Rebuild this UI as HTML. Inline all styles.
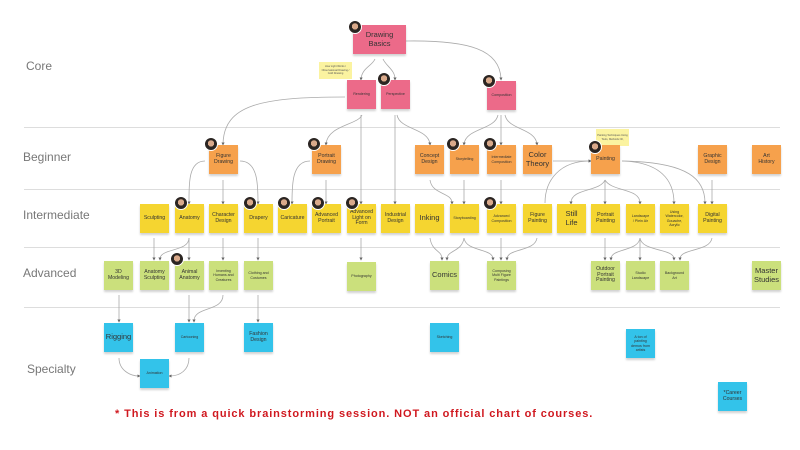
<!DOCTYPE html>
<html><head><meta charset="utf-8"><style>
body{margin:0;width:800px;height:450px;background:#fff;position:relative;overflow:hidden;font-family:"Liberation Sans",sans-serif}
.s{position:absolute;width:29px;height:29px;box-sizing:border-box;padding:0 3px;display:flex;align-items:center;justify-content:center;text-align:center;color:#333;box-shadow:0 2px 2px rgba(0,0,0,.18);line-height:1.15;overflow:hidden}
.p{background:#ec6a89}.o{background:#f6a14c}.y{background:#f5d530}.g{background:#cbe07c}.b{background:#33c3ea}
.L{font-size:7.5px}.M{font-size:5.2px}.S{font-size:3.6px}
.lab{position:absolute;font-size:12px;color:#777}
.hr{position:absolute;left:24px;width:756px;height:1px;background:#ddd}
.av{position:absolute;width:12px;height:12px;border-radius:50%;background:radial-gradient(circle at 50% 45%,#d9a98a 0 35%,#2b2522 36%);border:1px solid #fff}
svg{position:absolute;left:0;top:0}
</style></head><body>
<div class="hr" style="top:127px"></div><div class="hr" style="top:189px"></div><div class="hr" style="top:247px"></div><div class="hr" style="top:307px"></div>
<div class="lab" style="left:26px;top:59px">Core</div>
<div class="lab" style="left:23px;top:150px">Beginner</div>
<div class="lab" style="left:23px;top:208px">Intermediate</div>
<div class="lab" style="left:23px;top:266px">Advanced</div>
<div class="lab" style="left:27px;top:362px">Specialty</div>
<svg width="800" height="450" fill="none" stroke="#aaa" stroke-width="0.8">
<defs><marker id="a" markerWidth="4" markerHeight="4" refX="2" refY="2" orient="auto"><path d="M0,0L4,2L0,4z" fill="#666" stroke="none"/></marker></defs>
<g marker-end="url(#a)">
<path d="M375,59C372,66 362,68 361,79"/><path d="M383,59C386,66 395,70 395,79"/><path d="M406,41C470,40 500,50 501,79"/>
<path d="M345,97C260,97 224,105 223,144"/><path d="M362,115C358,125 328,125 326,144"/><path d="M361,115V203"/>
<path d="M395,115V203"/><path d="M397,115C400,130 428,128 430,144"/>
<path d="M498,115C495,130 466,128 464,144"/><path d="M501,115V144"/><path d="M505,115C508,130 535,128 537,144"/>
<path d="M205,161C188,161 189,185 189,203"/><path d="M223,180V203"/><path d="M240,161C258,161 258,185 258,203"/>
<path d="M310,161C292,161 292,185 292,203"/><path d="M326,180V203"/>
<path d="M553,161H590"/><path d="M545,203C545,180 560,161 590,161"/>
<path d="M430,180C432,195 452,192 452,203"/><path d="M464,180V203"/><path d="M501,180V203"/>
<path d="M605,180C600,192 571,188 571,203"/><path d="M605,180V203"/><path d="M605,180C612,192 640,188 640,203"/>
<path d="M622,161C660,162 674,180 674,203"/><path d="M622,161C690,162 705,180 705,203"/><path d="M712,180V203"/>
<path d="M154,238V259"/><path d="M189,238C189,252 160,248 160,259"/><path d="M189,238V259"/><path d="M223,238V259"/><path d="M258,238V259"/><path d="M361,238V259"/>
<path d="M430,238C432,252 442,250 442,259"/><path d="M464,238C462,252 447,250 447,259"/><path d="M464,238C466,252 493,248 493,259"/><path d="M501,238V259"/><path d="M537,238C535,252 507,248 507,259"/>
<path d="M605,238V259"/><path d="M640,238C638,252 611,248 611,259"/><path d="M640,238V259"/><path d="M640,238C642,252 674,248 674,259"/><path d="M712,238C710,252 680,248 680,259"/>
<path d="M119,295V321"/><path d="M189,295V321"/><path d="M223,295C223,312 194,306 194,321"/><path d="M258,295V321"/>
<path d="M119,358C119,370 130,376 139,376"/><path d="M189,358C189,370 180,376 170,376"/>
</g></svg>
<div style="position:absolute;left:319px;top:62px;width:33px;height:17px;background:#fbf3a0;font-size:2.6px;color:#555;text-align:center;line-height:1.3;display:flex;align-items:center;justify-content:center">How Light Works / Observational Drawing / Cold Drawing</div>
<div style="position:absolute;left:596px;top:129px;width:33px;height:17px;background:#fbf3a0;font-size:2.6px;color:#555;text-align:center;line-height:1.3;display:flex;align-items:center;justify-content:center">Painting Techniques Using Tools, Methods Oil,</div>
<div class="s p L" style="left:353px;top:25px;width:53px">Drawing<br>Basics</div>
<div class="s p S" style="left:347px;top:80px">Rendering</div>
<div class="s p S" style="left:381px;top:80px">Perspective</div>
<div class="s p S" style="left:487px;top:81px">Composition</div>
<div class="s o M" style="left:209px;top:145px">Figure Drawing</div>
<div class="s o M" style="left:312px;top:145px">Portrait Drawing</div>
<div class="s o M" style="left:415px;top:145px">Concept Design</div>
<div class="s o S" style="left:450px;top:145px">Storytelling</div>
<div class="s o S" style="left:487px;top:145px">Intermediate Composition</div>
<div class="s o L" style="left:523px;top:145px">Color<br>Theory</div>
<div class="s o M" style="left:591px;top:145px">Painting</div>
<div class="s o M" style="left:698px;top:145px">Graphic<br>Design</div>
<div class="s o M" style="left:752px;top:145px">Art<br>History</div>
<div class="s y M" style="left:140px;top:204px">Sculpting</div>
<div class="s y M" style="left:175px;top:204px">Anatomy</div>
<div class="s y M" style="left:209px;top:204px">Character Design</div>
<div class="s y M" style="left:244px;top:204px">Drapery</div>
<div class="s y M" style="left:278px;top:204px">Caricature</div>
<div class="s y M" style="left:312px;top:204px">Advanced Portrait</div>
<div class="s y M" style="left:347px;top:204px">Advanced Light on Form</div>
<div class="s y M" style="left:381px;top:204px">Industrial Design</div>
<div class="s y L" style="left:415px;top:204px">Inking</div>
<div class="s y S" style="left:450px;top:204px">Storyboarding</div>
<div class="s y S" style="left:487px;top:204px">Advanced Composition</div>
<div class="s y M" style="left:523px;top:204px">Figure Painting</div>
<div class="s y L" style="left:557px;top:204px">Still<br>Life</div>
<div class="s y M" style="left:591px;top:204px">Portrait Painting</div>
<div class="s y S" style="left:626px;top:204px">Landscape<br>/ Plein Air</div>
<div class="s y S" style="left:660px;top:204px">Using Watercolor, Gouache, Acrylic</div>
<div class="s y M" style="left:698px;top:204px">Digital Painting</div>
<div class="s g M" style="left:104px;top:261px">3D<br>Modeling</div>
<div class="s g M" style="left:140px;top:261px">Anatomy Sculpting</div>
<div class="s g M" style="left:175px;top:261px">Animal Anatomy</div>
<div class="s g S" style="left:209px;top:261px">Inventing Humans and Creatures</div>
<div class="s g S" style="left:244px;top:261px">Clothing and Costumes</div>
<div class="s g S" style="left:347px;top:262px">Photography</div>
<div class="s g L" style="left:430px;top:261px">Comics</div>
<div class="s g S" style="left:487px;top:261px">Composing Multi Figure Paintings</div>
<div class="s g M" style="left:591px;top:261px">Outdoor Portrait Painting</div>
<div class="s g S" style="left:626px;top:261px">Studio<br>Landscape</div>
<div class="s g S" style="left:660px;top:261px">Background<br>Art</div>
<div class="s g L" style="left:752px;top:261px">Master Studies</div>
<div class="s b L" style="left:104px;top:323px">Rigging</div>
<div class="s b S" style="left:175px;top:323px">Cartooning</div>
<div class="s b M" style="left:244px;top:323px">Fashion Design</div>
<div class="s b S" style="left:140px;top:359px">Animation</div>
<div class="s b S" style="left:430px;top:323px">Sketching</div>
<div class="s b S" style="left:626px;top:329px">A ton of painting demos from artists</div>
<div class="s b M" style="left:718px;top:382px">*Career Courses</div>
<div class="av" style="left:348px;top:20px"></div>
<div class="av" style="left:377px;top:72px"></div>
<div class="av" style="left:482px;top:74px"></div>
<div class="av" style="left:204px;top:137px"></div>
<div class="av" style="left:307px;top:137px"></div>
<div class="av" style="left:446px;top:137px"></div>
<div class="av" style="left:483px;top:137px"></div>
<div class="av" style="left:588px;top:140px"></div>
<div class="av" style="left:174px;top:196px"></div>
<div class="av" style="left:243px;top:196px"></div>
<div class="av" style="left:277px;top:196px"></div>
<div class="av" style="left:311px;top:196px"></div>
<div class="av" style="left:345px;top:196px"></div>
<div class="av" style="left:483px;top:196px"></div>
<div class="av" style="left:170px;top:252px"></div>
<div style="position:absolute;left:115px;top:408px;width:520px;font-size:11px;font-weight:bold;color:#d0181f;letter-spacing:0.9px;white-space:nowrap">* This is from a quick brainstorming session. NOT an official chart of courses.</div>
</body></html>
